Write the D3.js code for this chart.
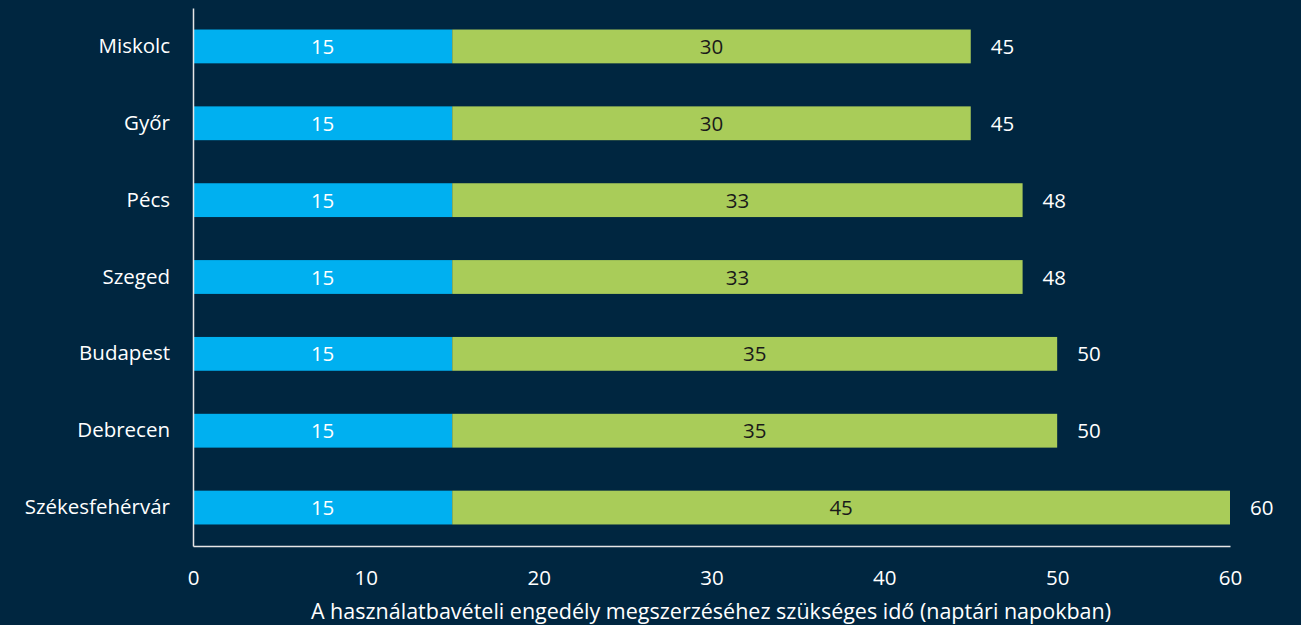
<!DOCTYPE html>
<html>
<head>
<meta charset="utf-8">
<script src="https://cdn.jsdelivr.net/npm/d3@7"></script>
<style>
  html, body { margin: 0; padding: 0; background: #002640; }
  svg { display: block; }
  text { font-family: "Open Sans", "Noto Sans", sans-serif; }
</style>
</head>
<body>
<svg id="chart" width="1301" height="625"></svg>
<script>
// Cities, top to bottom
const cities = ["Miskolc", "Győr", "Pécs", "Szeged", "Budapest", "Debrecen", "Székesfehérvár"];
// Days in the first phase (blue) and second phase (green)
const phaseOne = [15, 15, 15, 15, 15, 15, 15];
const phaseTwo = [30, 30, 33, 33, 35, 35, 45];
const totals = [45, 45, 48, 48, 50, 50, 60];
const xTicks = [0, 10, 20, 30, 40, 50, 60];
const axisTitle = "A használatbavételi engedély megszerzéséhez szükséges idő (naptári napokban)";

const colors = { bg: "#002640", one: "#00B0F0", two: "#A9CC59", axis: "#E6E6E6", text: "#FFFFFF", dark: "#1A1A1A" };

const svg = d3.select("#chart");
const margin = { left: 193, right: 71, top: 8, bottom: 79 };
const W = 1301, H = 625;

const x = d3.scaleLinear().domain([0, 60]).range([margin.left, W - margin.right]);
const y = d3.scaleBand().domain(cities).range([margin.top, H - margin.bottom]).paddingInner(0.56).paddingOuter(0.28);

const rows = cities.map((c, i) => ({ city: c, a: phaseOne[i], b: phaseTwo[i], t: totals[i] }));

// Blue segment
svg.append("g").selectAll("rect").data(rows).join("rect")
  .attr("x", x(0)).attr("y", d => y(d.city))
  .attr("width", d => x(d.a) - x(0)).attr("height", y.bandwidth())
  .attr("fill", colors.one);

// Green segment
svg.append("g").selectAll("rect").data(rows).join("rect")
  .attr("x", d => x(d.a)).attr("y", d => y(d.city))
  .attr("width", d => x(d.a + d.b) - x(d.a)).attr("height", y.bandwidth())
  .attr("fill", colors.two);

const fs = 20.5;
// Segment labels
svg.append("g").selectAll("text").data(rows).join("text")
  .attr("x", d => (x(0) + x(d.a)) / 2).attr("y", d => y(d.city) + y.bandwidth() / 2)
  .attr("dy", "0.37em").attr("text-anchor", "middle")
  .attr("font-size", fs).attr("fill", colors.text)
  .text(d => d.a);

svg.append("g").selectAll("text").data(rows).join("text")
  .attr("x", d => (x(d.a) + x(d.a + d.b)) / 2).attr("y", d => y(d.city) + y.bandwidth() / 2)
  .attr("dy", "0.37em").attr("text-anchor", "middle")
  .attr("font-size", fs).attr("fill", colors.dark)
  .text(d => d.b);

// Totals
svg.append("g").selectAll("text").data(rows).join("text")
  .attr("x", d => x(d.t) + 20).attr("y", d => y(d.city) + y.bandwidth() / 2)
  .attr("dy", "0.37em").attr("text-anchor", "start")
  .attr("font-size", fs).attr("fill", colors.text)
  .text(d => d.t);

// Axes
const yAxis = svg.append("g").attr("transform", `translate(${margin.left},0)`)
  .call(d3.axisLeft(y).tickSize(0).tickPadding(23));
yAxis.select(".domain").attr("stroke", colors.axis).attr("stroke-width", 1.5);
yAxis.selectAll("text").attr("font-size", fs).attr("fill", colors.text).attr("font-family", "Open Sans");

const xAxis = svg.append("g").attr("transform", `translate(0,${H - margin.bottom})`)
  .call(d3.axisBottom(x).tickValues(xTicks).tickSize(0).tickPadding(24));
xAxis.select(".domain").attr("stroke", colors.axis).attr("stroke-width", 1.5);
xAxis.selectAll("text").attr("font-size", fs).attr("fill", colors.text).attr("font-family", "Open Sans");

svg.append("text")
  .attr("x", 711).attr("y", 619)
  .attr("text-anchor", "middle").attr("font-size", 21.5).attr("fill", colors.text)
  .text(axisTitle);
</script>
</body>
</html>
